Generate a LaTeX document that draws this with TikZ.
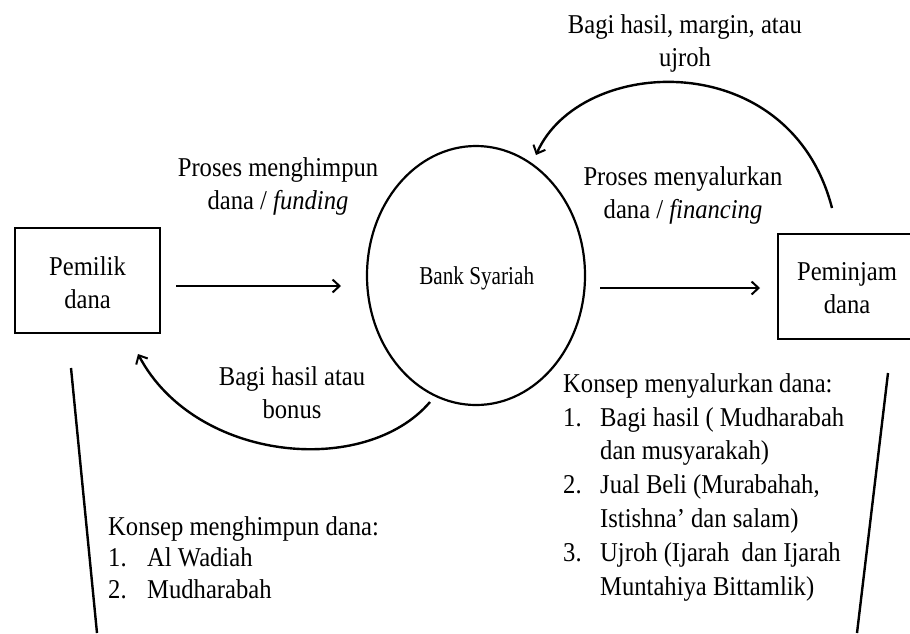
\documentclass[tikz,border=0pt]{standalone}
\usepackage{fontspec}
\setmainfont[FakeStretch=0.905]{Liberation Serif}
\newfontfamily\bankfont[FakeStretch=0.825]{Liberation Serif}
\usetikzlibrary{arrows.meta,shapes.geometric}
\newcommand{\numitem}[1]{\makebox[37pt][l]{#1}}
\newcommand{\contitem}{\hspace*{37pt}}
\begin{document}
\begin{tikzpicture}[x=1pt,y=-1pt,
  txt/.style={font=\fontsize{27.2}{33}\selectfont, inner sep=0pt, align=center, anchor=base},
  lst/.style={font=\fontsize{27.2}{33.8}\selectfont, inner sep=0pt, align=left, anchor=base west},
  box/.style={draw, line width=2.2pt, rectangle, inner sep=0pt, minimum width=#1, minimum height=105pt},
  flow/.style={line width=2.4pt, -{Straight Barb[length=7pt,width=13pt,line width=2pt]}},
  plain/.style={line width=2.4pt}]
\useasboundingbox (0,0) rectangle (910,633);
\fill[white] (0,0) rectangle (910,633);

% boxes and ellipse
\node[box=145pt] (pemilik) at (87.5,280.5) {};
\node[box=134pt, anchor=north west] (peminjam) at (777,233) {};
\node[draw, ellipse, line width=2.2pt, minimum width=218pt, minimum height=259pt, inner sep=0pt] (bank) at (476,275.5) {};

% texts (anchor = baseline of last line)
\node[txt] (tpemilik) at (87.5,308.5) {Pemilik\\dana};
\node[txt] (tpeminjam) at (847,313) {Peminjam\\dana};
\node[txt, font=\bankfont\fontsize{25.7}{30}\selectfont] (tbank) at (476.7,284.3) {Bank Syariah};
\node[txt] (tfund) at (278,209) {Proses menghimpun\\dana / \textit{funding}};
\node[txt] (tfin) at (683,218) {Proses menyalurkan\\dana / \textit{financing}};
\node[txt] (tmargin) at (685,66) {Bagi hasil, margin, atau\\ujroh};
\node[txt] (tbonus) at (292,418) {Bagi hasil atau\\bonus};

\node[lst, font=\fontsize{27.2}{31.5}\selectfont] (lkiri) at (108,598) {Konsep menghimpun dana:\\
\makebox[39pt][l]{1.}Al Wadiah\\
\makebox[39pt][l]{2.}Mudharabah};
\node[lst] (lkanan) at (563,595) {Konsep menyalurkan dana:\\
\numitem{1.}Bagi hasil ( Mudharabah\\
\contitem dan musyarakah)\\
\numitem{2.}Jual Beli (Murabahah,\\
\contitem Istishna’ dan salam)\\
\numitem{3.}Ujroh (Ijarah\ \ dan Ijarah\\
\contitem Muntahiya Bittamlik)};

% connector end points
\coordinate (a1) at (176,286);
\coordinate (a2) at (341,286);
\coordinate (b1) at (600,288);
\coordinate (b2) at (760,288);
\coordinate (c1) at (430,402);
\coordinate (c2) at (138,354);
\coordinate (d1) at (832,208);
\coordinate (d2) at (536,155);
\coordinate (e1) at (71,368);
\coordinate (e2) at (97,633);
\coordinate (f1) at (888,373);
\coordinate (f2) at (857,633);

\draw[flow] (a1) -- (a2);
\draw[flow] (b1) -- (b2);
\draw[flow] (c1) .. controls (365,478) and (195,462) .. (c2);
\draw[flow] (d1) .. controls (790,45) and (580,55) .. (d2);
\draw[plain] (e1) -- (e2);
\draw[plain] (f1) -- (f2);
\end{tikzpicture}
\end{document}
